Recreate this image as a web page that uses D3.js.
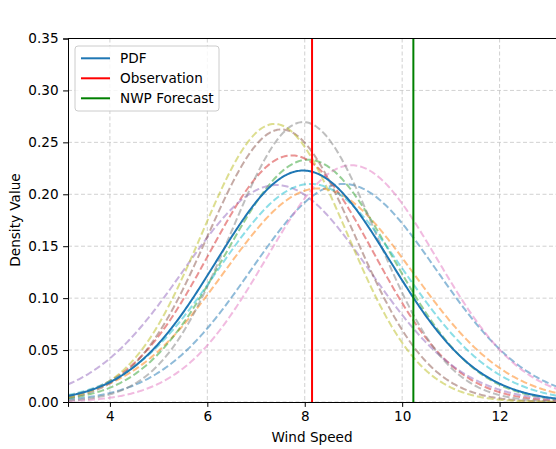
<!DOCTYPE html>
<html><head><meta charset="utf-8">
<script src="https://cdn.jsdelivr.net/npm/d3@7/dist/d3.min.js"></script>
<style>body{margin:0;background:#fff;}svg{display:block;font-family:"DejaVu Sans",sans-serif;}</style>
</head><body>
<svg id="chart" width="556" height="449"></svg>
<script>
// Ensemble member normal distributions (mean, std dev)
const memberMeans = [8.80, 8.28, 8.07, 7.73, 7.42, 7.52, 8.96, 7.97, 7.38, 8.12];
const memberStds  = [1.90, 1.94, 1.71, 1.68, 1.91, 1.52, 1.75, 1.48, 1.49, 1.90];
const memberColors = ["#1f77b4","#ff7f0e","#2ca02c","#d62728","#9467bd","#8c564b","#e377c2","#7f7f7f","#bcbd22","#17becf"];
const pdfMean = 7.97, pdfStd = 1.79;
const observation = 8.15;
const nwpForecast = 10.23;
const xTicks = [4, 6, 8, 10, 12];
const yTicks = [0.00, 0.05, 0.10, 0.15, 0.20, 0.25, 0.30, 0.35];
const legendLabels = ["PDF", "Observation", "NWP Forecast"];
const legendColors = ["#1f77b4", "#ff0000", "#008000"];

(function () {
const FS = "13.6px";
const svg = d3.select("#chart");
const pL = 68, pT = 38.5, pB = 402, pR = 572;
const x = d3.scaleLinear().domain([3.14, 4 + (pR - 110) / 48.7]).range([pL, pR]);
const y = d3.scaleLinear().domain([0, 0.35]).range([pB, pT]);

svg.append("defs").append("clipPath").attr("id", "clip")
  .append("rect").attr("x", pL).attr("y", pT).attr("width", pR - pL).attr("height", pB - pT);

// grid
const grid = svg.append("g");
xTicks.forEach(t => grid.append("line").attr("x1", x(t)).attr("x2", x(t)).attr("y1", pT).attr("y2", pB)
  .attr("stroke", "#b0b0b0").attr("stroke-opacity", 0.65).attr("stroke-width", 0.9).attr("stroke-dasharray", "4,2.5"));
yTicks.forEach(t => grid.append("line").attr("x1", pL).attr("x2", pR).attr("y1", y(t)).attr("y2", y(t))
  .attr("stroke", "#b0b0b0").attr("stroke-opacity", 0.65).attr("stroke-width", 0.9).attr("stroke-dasharray", "4,2.5"));

const normal = (v, m, s) => Math.exp(-0.5 * ((v - m) / s) ** 2) / (s * Math.sqrt(2 * Math.PI));
const xs = d3.range(0, 401).map(i => x.domain()[0] + i * (x.domain()[1] - x.domain()[0]) / 400);
const line = d3.line().x(d => x(d[0])).y(d => y(d[1]));

const plot = svg.append("g").attr("clip-path", "url(#clip)");
memberMeans.forEach((m, i) => {
  plot.append("path").datum(xs.map(v => [v, normal(v, m, memberStds[i])]))
    .attr("d", line).attr("fill", "none").attr("stroke", memberColors[i])
    .attr("stroke-opacity", 0.5).attr("stroke-width", 2).attr("stroke-dasharray", "7,3");
});
plot.append("path").datum(xs.map(v => [v, normal(v, pdfMean, pdfStd)]))
  .attr("d", line).attr("fill", "none").attr("stroke", "#1f77b4").attr("stroke-width", 2);
plot.append("line").attr("x1", x(observation)).attr("x2", x(observation)).attr("y1", pT).attr("y2", pB)
  .attr("stroke", "#ff0000").attr("stroke-width", 2);
plot.append("line").attr("x1", x(nwpForecast)).attr("x2", x(nwpForecast)).attr("y1", pT).attr("y2", pB)
  .attr("stroke", "#008000").attr("stroke-width", 2);

// axes
const xAxis = svg.append("g").attr("transform", `translate(0,${pB})`)
  .call(d3.axisBottom(x).tickValues(xTicks).tickFormat(d3.format("d")).tickSizeOuter(0).tickSize(4.9).tickPadding(4.5));
const yAxis = svg.append("g").attr("transform", `translate(${pL},0)`)
  .call(d3.axisLeft(y).tickValues(yTicks).tickFormat(d3.format(".2f")).tickSizeOuter(0).tickSize(4.9).tickPadding(4.5));
[xAxis, yAxis].forEach(a => {
  a.selectAll("text").attr("font-size", FS).attr("fill", "#000").attr("font-family", "DejaVu Sans");
  a.selectAll("line").attr("stroke", "#000").attr("stroke-width", 1);
  a.select(".domain").attr("stroke", "#000").attr("stroke-width", 1);
});
svg.append("line").attr("x1", pL).attr("x2", pR).attr("y1", pT).attr("y2", pT).attr("stroke", "#000");

svg.append("text").attr("x", 312).attr("y", 441.5).attr("text-anchor", "middle")
  .attr("font-size", FS).text("Wind Speed");
svg.append("text").attr("transform", "translate(20,220) rotate(-90)").attr("text-anchor", "middle")
  .attr("font-size", FS).text("Density Value");

// legend
const lg = svg.append("g");
lg.append("rect").attr("x", 75).attr("y", 46).attr("width", 144).attr("height", 65).attr("rx", 3)
  .attr("fill", "#fff").attr("fill-opacity", 0.8).attr("stroke", "#cccccc").attr("stroke-width", 1);
legendLabels.forEach((lab, i) => {
  const yy = 58.3 + i * 20;
  lg.append("line").attr("x1", 81).attr("x2", 110).attr("y1", yy).attr("y2", yy)
    .attr("stroke", legendColors[i]).attr("stroke-width", 2);
  lg.append("text").attr("x", 120).attr("y", yy + 5).attr("font-size", FS).text(lab);
});
})();
</script>
</body></html>
